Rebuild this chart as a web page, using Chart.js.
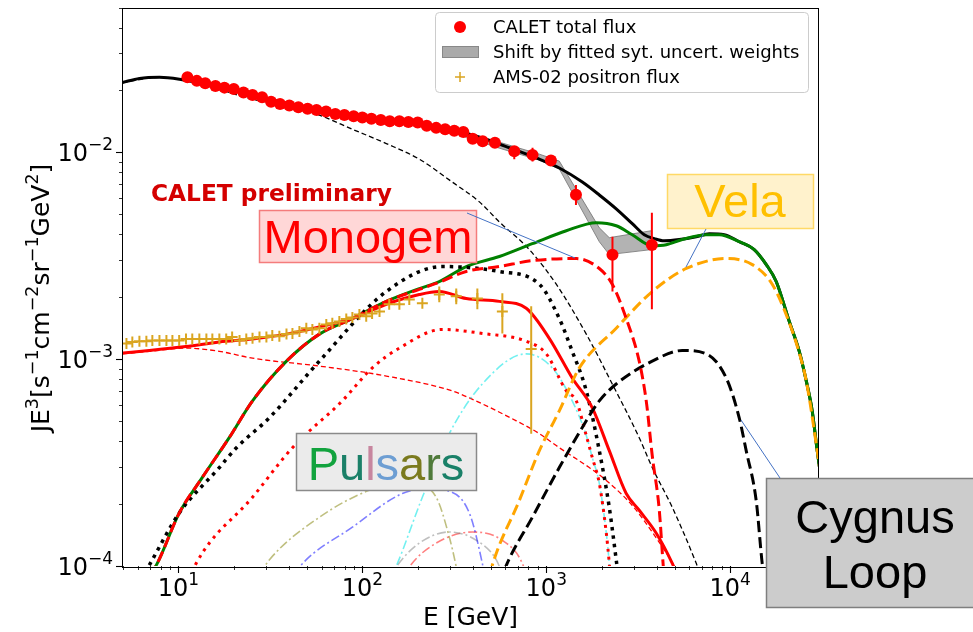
<!DOCTYPE html>
<html>
<head>
<meta charset="utf-8">
<script src="https://cdn.jsdelivr.net/npm/chart.js@4.4.0/dist/chart.umd.min.js"></script>
<style>
  html, body { margin: 0; padding: 0; background: #fff; }
  #wrap { width: 973px; height: 632px; }
</style>
</head>
<body>
<div id="wrap"><canvas id="grafico" width="973" height="632"></canvas></div>
<script>
// ---- datos (E en GeV, E^3 J en s^-1 cm^-2 sr^-1 GeV^2) ----

// CALET total flux
const caletE = [11.2, 12.6, 14.0, 15.9, 17.8, 20.0, 22.6, 25.3, 28.5, 31.9, 35.7, 40.1, 44.9, 50.4, 56.4, 63.5, 71.3, 79.9, 89.7, 100,
                112, 126, 141, 159, 178, 200, 224, 252, 282, 316, 354, 398, 451, 526, 670, 842, 1060, 1450, 2290, 3750];
const caletF = [0.0230, 0.0221, 0.0215, 0.0209, 0.0205, 0.0202, 0.0194, 0.0189, 0.0184, 0.0175, 0.0171, 0.0168, 0.0165, 0.0162, 0.0160,
                0.0157, 0.0153, 0.0151, 0.0149, 0.0147, 0.0145, 0.0143, 0.0141, 0.0141, 0.0140, 0.0139, 0.0134, 0.0131, 0.0129, 0.0127,
                0.0125, 0.0116, 0.0113, 0.0111, 0.0101, 0.0097, 0.0091, 0.00623, 0.00319, 0.00356];
const caletBarIdx = [34, 35, 36, 37, 38, 39];
const caletBarLo = [0.00925, 0.0090, 0.00866, 0.00556, 0.00212, 0.00174];
const caletBarHi = [0.01057, 0.0105, 0.00967, 0.00693, 0.00390, 0.00509];

// AMS-02 positron flux
const amsE = [5.22, 5.62, 6.14, 6.70, 7.22, 7.89, 8.61, 9.28, 10.1, 11.0, 11.9, 13.0, 14.2, 15.3, 16.7, 18.2, 19.6, 21.5, 23.4, 25.3,
              27.6, 30.1, 32.4, 35.4, 38.7, 41.7, 45.5, 49.6, 53.5, 58.4, 63.7, 68.7, 75.0, 81.8, 88.3, 96.4, 105, 113, 124, 140,
              159, 180, 212, 262, 324, 422, 577, 828];
const amsF = [0.00119, 0.00121, 0.00122, 0.00122, 0.00123, 0.00123, 0.00123, 0.00123, 0.00123, 0.00125, 0.00125, 0.00125, 0.00125, 0.00125, 0.00125,
              0.00125, 0.00128, 0.00123, 0.00125, 0.00126, 0.00128, 0.00128, 0.00130, 0.00129, 0.00132, 0.00133, 0.00136, 0.00141, 0.00139, 0.00141,
              0.00147, 0.00149, 0.00152, 0.00156, 0.00159, 0.00164, 0.00161, 0.00166, 0.00170, 0.00184, 0.00184, 0.00194, 0.00186, 0.00205, 0.00201,
              0.00196, 0.00170, 0.00112];
const amsBarIdx = [43, 44, 45, 46, 47];
const amsBarLo = [0.00188, 0.00184, 0.00174, 0.00133, 0.000436];
const amsBarHi = [0.00224, 0.00219, 0.00219, 0.00208, 0.00180];

// modelo total (negro)
const totalE = [4.97, 6.14, 7.89, 10.5, 14.7, 21.5, 31.2, 45.5, 66.2, 96.4, 140, 204, 297, 433, 630, 917, 1177, 1570, 1942, 2400,
                2934, 3409, 3866, 4378, 5285, 6535, 7691, 9279, 11190, 13500, 15700, 17780, 20940, 23730, 25900, 27900, 29700, 32400];
const totalF = [0.0217, 0.0227, 0.0230, 0.0224, 0.0212, 0.0197, 0.0180, 0.0167, 0.0156, 0.0147, 0.0143, 0.0138, 0.0129, 0.0118, 0.0105,
                0.00925, 0.00838, 0.00717, 0.00621, 0.00532, 0.00451, 0.00399, 0.00382, 0.00373, 0.00378, 0.00390, 0.00403, 0.00399, 0.00369, 0.00338,
                0.00286, 0.00237, 0.00152, 0.00109, 0.000784, 0.000562, 0.000361, 0.000207];

// primarios (negro fino discontinuo)
const primE = [4.97, 7.89, 10.5, 16.7, 25.3, 38.7, 58.4, 88.3, 135, 204, 308, 433, 556, 809, 1133, 1650, 2284, 3200, 3767, 4842, 6535, 7224];
const primF = [0.0217, 0.0230, 0.0224, 0.0201, 0.0180, 0.0168, 0.0151, 0.0129, 0.0110, 0.00925, 0.00717, 0.00575, 0.00460, 0.00338, 0.00230,
               0.00132, 0.000758, 0.000417, 0.000299, 0.000192, 0.000103, 0.0000811];

// suma de púlsares (verde)
const greenE = [6.95, 7.59, 10.1, 13.5, 18.9, 25.3, 38.7, 58.4, 88.3, 135, 204, 262, 367, 556, 840, 1285, 1871, 2400, 2934, 3767,
                4491, 5486, 7406, 8718, 11190, 13500, 15700, 17780, 20940, 23730, 25900, 27900, 29700, 32400];
const greenF = [0.0000906, 0.000101, 0.000180, 0.000268, 0.000417, 0.000628, 0.000977, 0.00132, 0.00157, 0.00190, 0.00219, 0.00237, 0.00280, 0.00313, 0.00361,
                0.00417, 0.00456, 0.00441, 0.00399, 0.00353, 0.00357, 0.00378, 0.00399, 0.00399, 0.00369, 0.00338, 0.00286, 0.00237, 0.00152, 0.00109,
                0.000784, 0.000562, 0.000361, 0.000207];

// Monogem (rojo discontinuo)
const monoE = [6.95, 7.59, 10.1, 13.5, 18.9, 25.3, 38.7, 58.4, 88.3, 135, 204, 262, 367, 556, 840, 1456, 1942, 2284, 2720, 3200,
               3494, 3767, 4115, 4325, 4491];
const monoF = [0.0000906, 0.000101, 0.000180, 0.000268, 0.000417, 0.000628, 0.000977, 0.00132, 0.00157, 0.00190, 0.00217, 0.00235, 0.00265, 0.00280, 0.00299,
               0.00306, 0.00274, 0.00230, 0.00157, 0.000977, 0.000628, 0.000342, 0.000186, 0.000100, 0.0000687];

// Vela (naranja discontinuo)
const velaE = [472, 509, 713, 917, 1177, 1511, 2400, 3767, 5768, 9512, 13180, 16920, 20940, 23730, 25900, 29700, 32400];
const velaF = [0.0000767, 0.000101, 0.000207, 0.000361, 0.000562, 0.000905, 0.00141, 0.00212, 0.00274, 0.00306, 0.00286, 0.00230, 0.00150, 0.00107,
               0.000784, 0.000361, 0.000207];

// Cygnus Loop (negro discontinuo)
const cygE = [556, 607, 840, 1177, 1650, 1942, 2400, 3767, 5486, 7406, 9512, 11190, 12210, 13840, 14920, 15490];
const cygF = [0.0000811, 0.000101, 0.000172, 0.000299, 0.000503, 0.000628, 0.000758, 0.000977, 0.00110, 0.00106, 0.000810, 0.000520, 0.000361,
              0.000207, 0.000103, 0.0000811];

// electrones de púlsares (negro punteado)
const dotE = [6.95, 10.1, 16.7, 20.7, 31.2, 58.4, 135, 272, 556, 917, 1177, 1384, 1650, 1942, 2200, 2400, 2493];
const dotF = [0.000101, 0.000180, 0.000299, 0.000373, 0.000520, 0.000977, 0.00212, 0.00280, 0.00265, 0.00230, 0.00157, 0.00109, 0.000702, 0.000361,
              0.000192, 0.000107, 0.0000811];

// positrones total (rojo) y secundarios (rojo fino discontinuo)
const posE = [4.97, 6.95, 11.0, 16.7, 25.3, 38.7, 58.4, 88.3, 135, 204, 262, 367, 556, 778, 1038, 1384, 1779, 2200, 2720, 3200, 3963, 4842, 5285];
const posF = [0.00107, 0.00110, 0.00115, 0.00121, 0.00125, 0.00132, 0.00143, 0.00157, 0.00184, 0.00205, 0.00212, 0.00196, 0.00190, 0.00176, 0.00126,
              0.000810, 0.000581, 0.000361, 0.000224, 0.000186, 0.000144, 0.000103, 0.0000857];
const secE = [4.97, 6.95, 11.0, 16.7, 25.3, 58.4, 135, 308, 382, 687, 917, 1177, 1713, 2120, 2934, 3866, 4964, 5420];
const secF = [0.00106, 0.00109, 0.00113, 0.00109, 0.00101, 0.000925, 0.000828, 0.000702, 0.000649, 0.000503, 0.000436, 0.000373, 0.000299, 0.000259,
              0.000196, 0.000141, 0.000100, 0.0000857];

// positrones de púlsares (rojo punteado)
const rdotE = [11.5, 12.5, 25.3, 41.7, 77.8, 113, 159, 272, 449, 778, 1000, 1285, 1456, 1650, 1779, 1942, 2120, 2200, 2255];
const rdotF = [0.0000857, 0.000103, 0.000215, 0.000373, 0.000628, 0.000905, 0.00113, 0.00139, 0.00133, 0.00122, 0.00106, 0.000702, 0.000628, 0.000427,
               0.000334, 0.000251, 0.000144, 0.000103, 0.0000767];

// púlsares individuales (punto y raya)
const cyanE = [140, 153, 212, 297, 449, 778, 1079, 1384, 1650, 1779, 1942, 2120, 2200, 2255];
const cyanF = [0.0000857, 0.000100, 0.000215, 0.000436, 0.000758, 0.00106, 0.000905, 0.000628, 0.000427, 0.000334, 0.000251, 0.000144, 0.000103, 0.0000767];
const oliveE = [27.6, 31.2, 58.4, 109, 159, 187, 252, 297, 324, 337];
const oliveF = [0.0000906, 0.000107, 0.000172, 0.000232, 0.000251, 0.000251, 0.000215, 0.000138, 0.0000989, 0.0000811];
const blueE = [42.7, 45.5, 88.3, 165, 231, 286, 382, 449, 472];
const blueF = [0.0000906, 0.0000989, 0.000154, 0.000224, 0.000237, 0.000232, 0.000180, 0.000103, 0.0000811];
const greyE = [140, 153, 204, 297, 417, 535, 592];
const greyF = [0.0000857, 0.0000989, 0.000129, 0.000146, 0.000133, 0.000107, 0.0000857];
const pinkE = [165, 180, 252, 396, 577, 741, 789];
const pinkF = [0.0000857, 0.0000989, 0.000129, 0.000146, 0.000133, 0.000103, 0.0000857];

// banda "Shift by fitted syt. uncert. weights"
const bandE = [316, 556, 917, 1177, 1942, 2200, 3720];
const bandHi = [0.01304, 0.01117, 0.00978, 0.00905, 0.00431, 0.00386, 0.00417];
const bandLo = [0.01234, 0.01045, 0.00915, 0.00829, 0.00369, 0.00320, 0.00338];

const xTicks = [1, 2, 3, 4];      // 10^n en el eje E
const yTicks = [-4, -3, -2];      // 10^n en el eje de flujo

// ---- construcción ----
const AXFONT = '"DejaVu Sans", sans-serif';
const ANFONT = '"Liberation Sans", Arial, sans-serif';

function pts(xs, ys) { return xs.map((x, i) => ({ x: x, y: ys[i] })); }

function curva(label, xs, ys, color, width, dash, order) {
    return {
        label: label, data: pts(xs, ys), borderColor: color, borderWidth: width,
        borderDash: dash || [], pointRadius: 0, fill: false, order: order,
        cubicInterpolationMode: 'monotone', clip: 0
    };
}

function rich(ctx, parts, x, y, size, supSize, rise, soloMedir) {
    let cx = x;
    for (const [t, sup] of parts) {
        ctx.font = (sup ? supSize : size) + 'px ' + AXFONT;
        if (!soloMedir) ctx.fillText(t, cx, sup ? y - rise : y);
        cx += ctx.measureText(t).width;
    }
    return cx - x;
}

function barras(ctx, sx, sy, xs, idx, lo, hi, color) {
    ctx.strokeStyle = color;
    ctx.lineWidth = 2;
    idx.forEach((k, i) => {
        const px = sx.getPixelForValue(xs[k]);
        ctx.beginPath();
        ctx.moveTo(px, sy.getPixelForValue(lo[i]));
        ctx.lineTo(px, sy.getPixelForValue(hi[i]));
        ctx.stroke();
    });
}

function caja(ctx, x, y, w, h, fill, stroke) {
    ctx.fillStyle = fill;
    ctx.fillRect(x, y, w, h);
    ctx.strokeStyle = stroke;
    ctx.lineWidth = 1.5;
    ctx.strokeRect(x + 0.5, y + 0.5, w, h);
}

function linea(ctx, x1, y1, x2, y2) {
    ctx.beginPath(); ctx.moveTo(x1, y1); ctx.lineTo(x2, y2); ctx.stroke();
}

const decor = {
    id: 'decor',
    afterDatasetsDraw(chart) {
        const { ctx, chartArea: a, scales: { x, y } } = chart;
        ctx.save();
        ctx.beginPath();
        ctx.rect(a.left, a.top, a.right - a.left, a.bottom - a.top);
        ctx.clip();
        barras(ctx, x, y, caletE, caletBarIdx, caletBarLo, caletBarHi, '#ff0000');
        barras(ctx, x, y, amsE, amsBarIdx, amsBarLo, amsBarHi, '#daa520');
        ctx.restore();
    },
    afterDraw(chart) {
        const { ctx, chartArea: a, scales: { x, y } } = chart;
        ctx.save();
        ctx.textAlign = 'left';
        ctx.textBaseline = 'alphabetic';

        // marco
        ctx.strokeStyle = '#000';
        ctx.lineWidth = 1;
        ctx.strokeRect(Math.round(a.left) - 0.5, Math.round(a.top) + 0.5, Math.round(a.right - a.left) + 1, Math.round(a.bottom - a.top));

        // marcas del eje x
        for (let e = 0; e <= 4; e++) {
            for (let k = 1; k <= 9; k++) {
                const v = k * Math.pow(10, e);
                if (v < 5 || v > 30000) continue;
                const px = Math.round(x.getPixelForValue(v)) + 0.5;
                ctx.lineWidth = k === 1 ? 1.1 : 0.8;
                linea(ctx, px, a.bottom, px, a.bottom + (k === 1 ? 7 : 4));
            }
        }
        // marcas del eje y
        for (let e = -4; e <= -2; e++) {
            for (let k = 1; k <= 9; k++) {
                const v = k * Math.pow(10, e);
                if (v > 0.0500001) continue;
                const py = Math.round(y.getPixelForValue(v)) + 0.5;
                ctx.lineWidth = k === 1 ? 1.1 : 0.8;
                linea(ctx, a.left, py, a.left - (k === 1 ? 7 : 4), py);
            }
        }

        // etiquetas
        ctx.fillStyle = '#000';
        xTicks.forEach(n => {
            const parts = [['10', false], [String(n), true]];
            const px = x.getPixelForValue(Math.pow(10, n));
            const w = rich(ctx, parts, 0, 0, 24, 17, 11, true);
            rich(ctx, parts, px - w / 2, 596, 24, 17, 11, false);
        });
        yTicks.forEach(n => {
            const parts = [['10', false], ['\u2212' + Math.abs(n), true]];
            const py = y.getPixelForValue(Math.pow(10, n));
            const w = rich(ctx, parts, 0, 0, 24, 17, 11, true);
            rich(ctx, parts, 113 - w, py + 9, 24, 17, 11, false);
        });

        // títulos de ejes
        ctx.font = '25px ' + AXFONT;
        ctx.textAlign = 'center';
        ctx.fillText('E [GeV]', (a.left + a.right) / 2, 625);
        ctx.textAlign = 'left';
        const yt = [['JE', false], ['3', true], ['[s', false], ['\u22121', true], ['cm', false], ['\u22122', true],
                    ['sr', false], ['\u22121', true], ['GeV', false], ['2', true], [']', false]];
        ctx.save();
        ctx.translate(49, 298);
        ctx.rotate(-Math.PI / 2);
        const wy = rich(ctx, yt, 0, 0, 25, 17.5, 11, true);
        rich(ctx, yt, -wy / 2, 0, 25, 17.5, 11, false);
        ctx.restore();

        // CALET preliminary
        ctx.fillStyle = '#d40000';
        ctx.font = 'bold 22px ' + AXFONT;
        const wp = ctx.measureText('CALET preliminary').width;
        ctx.font = 'bold ' + (22 * 241 / wp).toFixed(2) + 'px ' + AXFONT;
        ctx.fillText('CALET preliminary', 151, 201);

        // cajas de los púlsares
        ctx.textAlign = 'center';
        caja(ctx, 259, 210, 217, 52, '#ffd7d7', '#f47c7c');
        ctx.font = '47px ' + ANFONT;
        ctx.fillStyle = '#ff0000';
        ctx.fillText('Monogem', 368, 253);

        caja(ctx, 667, 174, 146, 54, '#fff2cc', '#ffd966');
        ctx.fillStyle = '#ffc000';
        ctx.fillText('Vela', 740, 217);

        caja(ctx, 296, 433, 180, 57, '#ebebeb', '#8a8a8a');
        const letras = [['P', '#12a33e'], ['u', '#1b8068'], ['l', '#c7869f'], ['s', '#6d9ed3'], ['a', '#7a7a1e'], ['r', '#4f7a3a'], ['s', '#198068']];
        ctx.textAlign = 'left';
        let wt = 0;
        letras.forEach(l => { wt += ctx.measureText(l[0]).width; });
        let lx = 386 - wt / 2;
        letras.forEach(l => {
            ctx.fillStyle = l[1];
            ctx.fillText(l[0], lx, 480);
            lx += ctx.measureText(l[0]).width;
        });

        caja(ctx, 766, 478, 215, 129, '#cccccc', '#7f7f7f');
        ctx.textAlign = 'center';
        ctx.fillStyle = '#000';
        ctx.fillText('Cygnus', 875, 533);
        ctx.fillText('Loop', 875, 588);

        // líneas guía
        ctx.strokeStyle = '#4472c4';
        ctx.lineWidth = 1;
        linea(ctx, 467, 213, 575, 258);
        linea(ctx, 706, 229, 686, 267);
        linea(ctx, 741, 420, 780, 478);

        // leyenda
        ctx.textAlign = 'left';
        ctx.fillStyle = 'rgba(255,255,255,0.85)';
        ctx.strokeStyle = '#cccccc';
        ctx.lineWidth = 1;
        ctx.beginPath();
        ctx.roundRect(435.5, 12.5, 373, 80, 4);
        ctx.fill();
        ctx.stroke();

        ctx.fillStyle = '#ff0000';
        ctx.beginPath();
        ctx.arc(460, 27, 6, 0, Math.PI * 2);
        ctx.fill();
        ctx.fillStyle = '#aaaaaa';
        ctx.fillRect(442, 46, 37, 12);
        ctx.strokeStyle = '#888888';
        ctx.strokeRect(442.5, 46.5, 36, 11);
        ctx.strokeStyle = '#daa520';
        ctx.lineWidth = 1.5;
        linea(ctx, 455, 77, 465, 77);
        linea(ctx, 460, 72, 460, 82);

        ctx.fillStyle = '#000';
        ctx.font = '18px ' + AXFONT;
        ctx.fillText('CALET total flux', 493, 33);
        ctx.fillText('Shift by fitted syt. uncert. weights', 493, 58);
        ctx.fillText('AMS-02 positron flux', 493, 83);
        ctx.restore();
    }
};

const datasets = [
    { label: 'CALET total flux', data: pts(caletE, caletF), showLine: false, pointRadius: 6, pointStyle: 'circle',
      pointBackgroundColor: '#ff0000', pointBorderWidth: 0, order: 0 },
    { label: 'AMS-02 positron flux', data: pts(amsE, amsF), showLine: false, pointRadius: 5.5, pointStyle: 'cross',
      pointBorderColor: '#daa520', pointBorderWidth: 2, order: 1 },
    curva('Monogem', monoE, monoF, '#ff0000', 3, [11, 5], 2),
    curva('Vela', velaE, velaF, '#ffa500', 3, [11, 5], 3),
    curva('Cygnus Loop', cygE, cygF, '#000000', 3, [11, 5], 4),
    curva('pulsar e+', rdotE, rdotF, '#ff0000', 3, [3, 5], 5),
    curva('cyan', cyanE, cyanF, 'rgba(0,228,228,0.55)', 1.6, [9, 3, 2, 3], 6),
    curva('positron total', posE, posF, '#ff0000', 3, [], 7),
    curva('pulsar e-', dotE, dotF, '#000000', 3.5, [3.5, 5], 8),
    curva('pulsars', greenE, greenF, '#008000', 3, [], 9),
    curva('total', totalE, totalF, '#000000', 3, [], 10),
    curva('primary', primE, primF, '#000000', 1.3, [5, 3], 11),
    curva('secondary', secE, secF, '#ff0000', 1.3, [5, 3], 12),
    curva('olive', oliveE, oliveF, 'rgba(128,128,0,0.5)', 1.6, [9, 3, 2, 3], 13),
    curva('blue', blueE, blueF, 'rgba(0,0,255,0.5)', 1.6, [9, 3, 2, 3], 14),
    curva('grey', greyE, greyF, 'rgba(128,128,128,0.5)', 1.6, [9, 3, 2, 3], 15),
    curva('pink', pinkE, pinkF, 'rgba(255,0,0,0.5)', 1.6, [9, 3, 2, 3], 16),
    { label: 'band hi', data: pts(bandE, bandHi), borderColor: 'rgba(110,110,110,0.8)', borderWidth: 1, pointRadius: 0,
      backgroundColor: 'rgba(128,128,128,0.6)', fill: '+1', tension: 0, order: 17 },
    { label: 'band lo', data: pts(bandE, bandLo), borderColor: 'rgba(110,110,110,0.8)', borderWidth: 1, pointRadius: 0,
      fill: false, tension: 0, order: 18 }
];

new Chart(document.getElementById('grafico').getContext('2d'), {
    type: 'line',
    data: { datasets: datasets },
    options: {
        responsive: false,
        animation: false,
        events: [],
        layout: { padding: { left: 123, right: 155, top: 4, bottom: 66 } },
        plugins: { legend: { display: false }, tooltip: { enabled: false } },
        scales: {
            x: { type: 'logarithmic', min: 5, max: 30000, display: false },
            y: { type: 'logarithmic', min: 1e-4, max: 0.05, display: false }
        }
    },
    plugins: [decor]
});
</script>
</body>
</html>
